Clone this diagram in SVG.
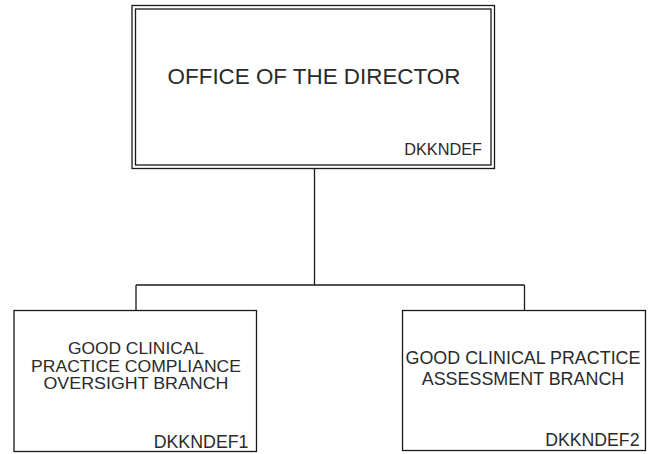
<svg xmlns="http://www.w3.org/2000/svg" width="648" height="454" viewBox="0 0 648 454">
<style>
.box{fill:#fff;stroke:#1a1a1a;stroke-width:1.3}
.line{fill:none;stroke:#1a1a1a;stroke-width:1.3}
text{font-family:"Liberation Sans",Arial,sans-serif;fill:#2a2a2a}
.c{text-anchor:middle}
.r{text-anchor:end}
</style>
<rect width="648" height="454" fill="#fff"/>
<g id="connectors">
<path class="line" d="M314.5,168.5 V285 M136,285 H524.5 M136,285 V310.5 M524.5,285 V310.5"/>
</g>
<g id="director">
<rect class="box" x="132" y="5.5" width="362.5" height="163"/>
<rect class="box" x="135.5" y="9" width="355.5" height="156"/>
<text class="c" x="314" y="83.5" font-size="22.4">OFFICE OF THE DIRECTOR</text>
<text class="r" x="482" y="154.5" font-size="16.3">DKKNDEF</text>
</g>
<g id="branch1">
<rect class="box" x="14" y="310.5" width="242.5" height="141"/>
<text class="c" x="136" y="353.5" font-size="15.6" textLength="136" lengthAdjust="spacingAndGlyphs">GOOD CLINICAL</text>
<text class="c" x="136" y="371.5" font-size="15.6" textLength="210" lengthAdjust="spacingAndGlyphs">PRACTICE COMPLIANCE</text>
<text class="c" x="136" y="389" font-size="15.6" textLength="185" lengthAdjust="spacingAndGlyphs">OVERSIGHT BRANCH</text>
<text class="r" x="248.5" y="447.5" font-size="17.8">DKKNDEF1</text>
</g>
<g id="branch2">
<rect class="box" x="402.5" y="310.5" width="243" height="140"/>
<text class="c" x="523" y="364" font-size="17.9">GOOD CLINICAL PRACTICE</text>
<text class="c" x="523" y="385" font-size="17.9">ASSESSMENT BRANCH</text>
<text class="r" x="639.5" y="446" font-size="17.7">DKKNDEF2</text>
</g>
</svg>
